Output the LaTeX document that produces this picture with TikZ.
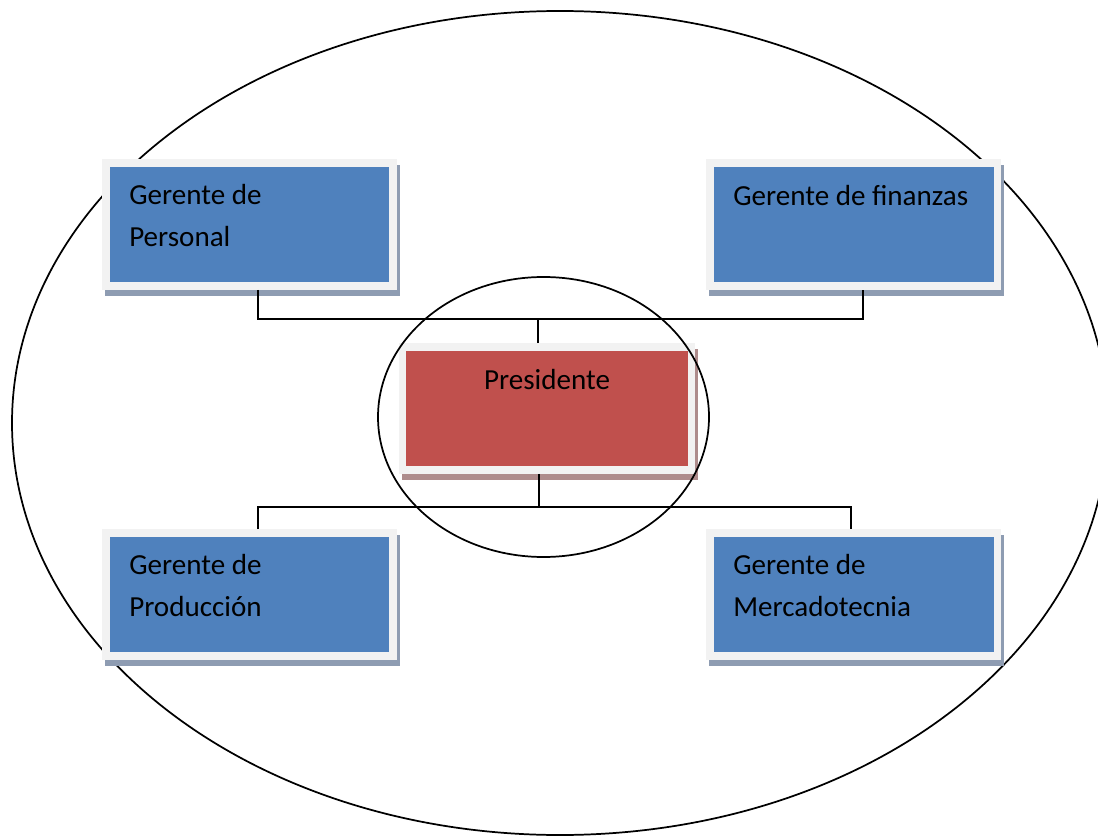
\documentclass[tikz,border=0pt]{standalone}
\usepackage{fontspec}
\setmainfont{Carlito}
\usetikzlibrary{calc}

\definecolor{boxblue}{HTML}{4F81BD}
\definecolor{boxred}{HTML}{C0504D}
\definecolor{framegray}{HTML}{F2F2F2}
\definecolor{shadeblue}{HTML}{8E9CB2}
\definecolor{shadered}{HTML}{AE8C8C}

\begin{document}
\begin{tikzpicture}[x=0.75pt,y=-0.75pt,
  orgbox/.style n args={2}{rectangle, inner sep=0pt,
    minimum width=215.6pt, minimum height=92.6pt,
    fill=#1, draw=framegray, line width=5.625pt,
    preaction={fill=#2, draw=#2, line width=5.625pt,
      transform canvas={xshift=1.9pt, yshift=-4.5pt}}},
  bluebox/.style={orgbox={boxblue}{shadeblue}},
  redbox/.style={orgbox={boxred}{shadered}},
  label text/.style={inner sep=0pt, align=left,
    font=\fontsize{21.8}{31}\selectfont},
  link/.style={line width=1.3pt, black},
  ring/.style={line width=1.3pt, black}]

\useasboundingbox (0,0) rectangle (1098,837);

% outer ring behind the chart
\draw[ring] (560,423) ellipse [x radius=548, y radius=412];

% boxes
\node[bluebox] (personal) at (249.5,224.5) {};
\node[bluebox] (finanzas) at (853.5,224.5) {};
\node[bluebox] (produccion) at (249.5,594.5) {};
\node[bluebox] (mercado) at (853.5,594.5) {};
\node[redbox, minimum width=216.4pt] (presidente) at (547,408.5) {};

% box texts (base anchor sits on the last line)
\node[label text, anchor=base west] (tpersonal) at ($(personal.north west)+(27,87)$) {Gerente de\\Personal};
\node[label text, anchor=base west] (tfinanzas) at ($(finanzas.north west)+(27,46)$) {Gerente de finanzas};
\node[label text, anchor=base west] (tproduccion) at ($(produccion.north west)+(27,87)$) {Gerente de\\Producción};
\node[label text, anchor=base west] (tmercado) at ($(mercado.north west)+(27,87)$) {Gerente de\\Mercadotecnia};
\node[label text, anchor=base] (tpresidente) at ($(presidente.north)+(0,46)$) {Presidente};

% connector attachment points
\coordinate (pA) at ($(personal.south)+(8.5,0)$);
\coordinate (fA) at ($(finanzas.south)+(9.5,0)$);
\coordinate (prTop) at ($(presidente.north)+(-9,0)$);
\coordinate (prBot) at ($(presidente.south)+(-8,0)$);
\coordinate (dA) at ($(produccion.north)+(8.5,0)$);
\coordinate (mA) at ($(mercado.north)+(-2.5,0)$);
\coordinate (topbus) at (0,319);
\coordinate (botbus) at (0,507);

% upper connector
\draw[link] (pA) -- (pA |- topbus) -- (fA |- topbus) -- (fA);
\draw[link] (prTop) -- (prTop |- topbus);

% lower connector
\draw[link] (prBot) -- (prBot |- botbus);
\draw[link] (dA) -- (dA |- botbus) -- (mA |- botbus) -- (mA);

% inner ring around the president
\draw[ring] (543.5,417) ellipse [x radius=165.5, y radius=140];
\end{tikzpicture}
\end{document}
